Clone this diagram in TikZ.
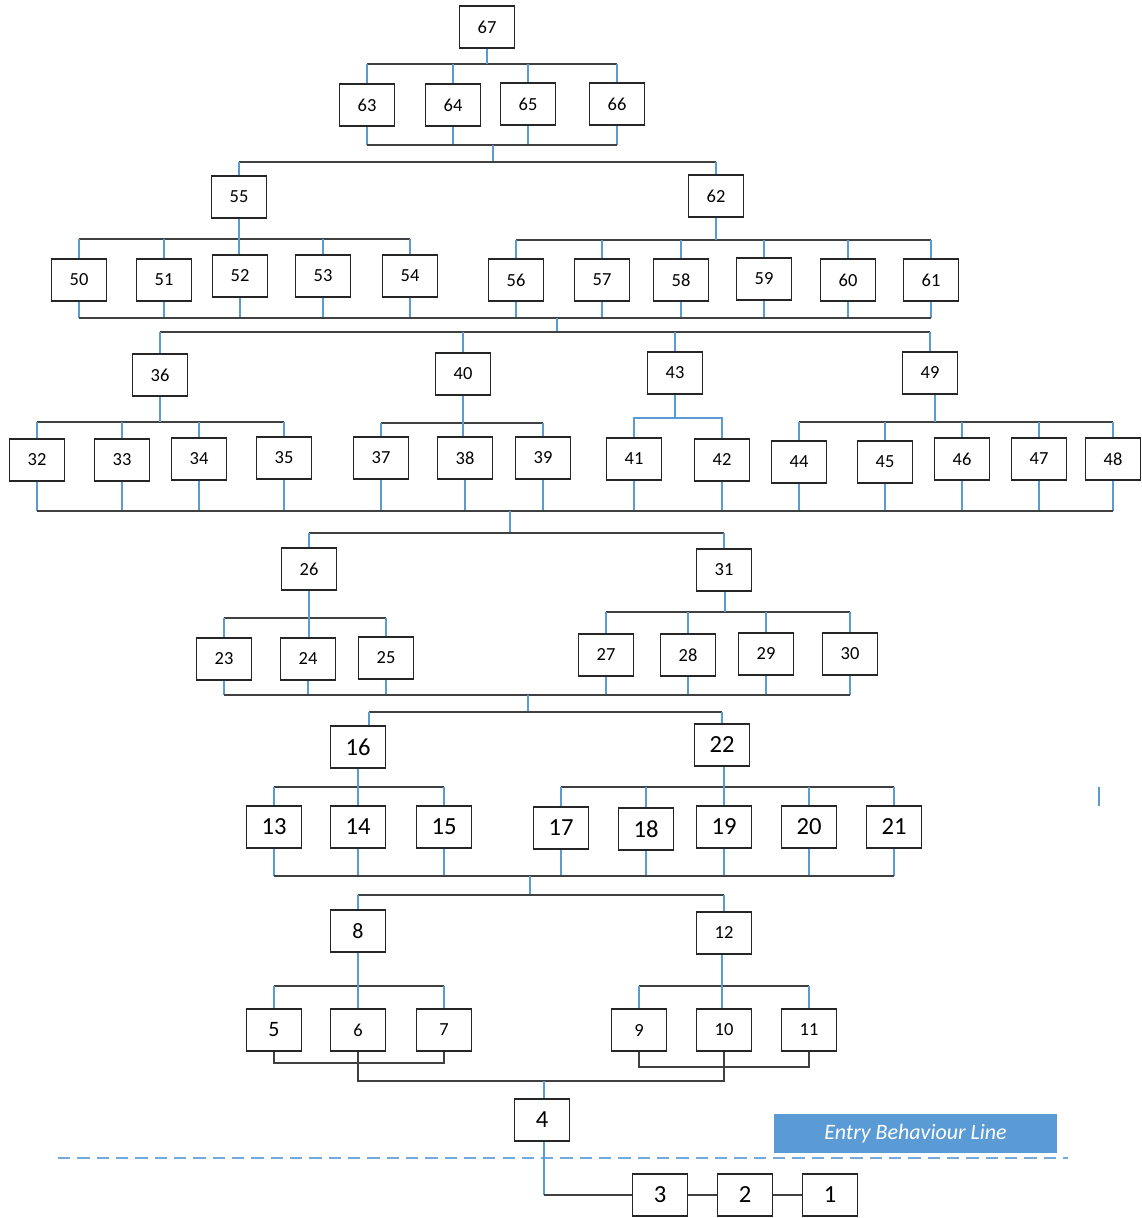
\documentclass[tikz,border=0pt]{standalone}
\usepackage{fontspec}
\setmainfont{Carlito}
\usepackage{xcolor, tikz}
\usetikzlibrary{calc}
\definecolor{stubblue}{HTML}{5B9BD5}
\definecolor{barcol}{HTML}{404040}
\tikzstyle{box} = [rectangle, minimum width=1.1cm, minimum height=0.84cm, inner sep=0pt, text centered, draw=black!85, line width=0.8pt, font=\fontsize{10.5}{12}\selectfont]
\tikzstyle{midbox} = [box, font=\fontsize{12.5}{14}\selectfont]
\tikzstyle{bigbox} = [box, font=\fontsize{14}{16}\selectfont]
\tikzstyle{bar} = [draw=barcol, line width=0.8pt]
\tikzstyle{stub} = [draw=stubblue, line width=0.6pt]
\tikzstyle{entrybox} = [rectangle, minimum width=5.66cm, minimum height=0.78cm, inner sep=0pt, fill=stubblue, text=white, font=\fontsize{12.5}{14}\selectfont\itshape]

\begin{document}
\begin{tikzpicture}[x=0.02cm, y=-0.02cm]
  \useasboundingbox (0,0) rectangle (1142,1218);
  % top of the map
  \node (n67)[box] at (487,27) {67};
  \node (n63)[box] at (367,105) {63};
  \node (n64)[box] at (453,105) {64};
  \node (n65)[box] at (528,104) {65};
  \node (n66)[box] at (617,104) {66};
  \node (n55)[box] at (239,197) {55};
  \node (n62)[box] at (716,196) {62};
  \node (n50)[box] at (79,280) {50};
  \node (n51)[box] at (164,280) {51};
  \node (n52)[box] at (240,276) {52};
  \node (n53)[box] at (323,276) {53};
  \node (n54)[box] at (410,276) {54};
  \node (n56)[box] at (516,280) {56};
  \node (n57)[box] at (602,280) {57};
  \node (n58)[box] at (681,280) {58};
  \node (n59)[box] at (764,279) {59};
  \node (n60)[box] at (848,280) {60};
  \node (n61)[box] at (931,280) {61};
  \node (n36)[box] at (160,375) {36};
  \node (n40)[box] at (463,374) {40};
  \node (n43)[box] at (675,373) {43};
  \node (n49)[box] at (930,373) {49};
  \node (n32)[box] at (37,460) {32};
  \node (n33)[box] at (122,460) {33};
  \node (n34)[box] at (199,459) {34};
  \node (n35)[box] at (284,458) {35};
  \node (n37)[box] at (381,458) {37};
  \node (n38)[box] at (465,458) {38};
  \node (n39)[box] at (543,458) {39};
  \node (n41)[box] at (634,459) {41};
  \node (n42)[box] at (722,460) {42};
  \node (n44)[box] at (799,462) {44};
  \node (n45)[box] at (885,462) {45};
  \node (n46)[box] at (962,459) {46};
  \node (n47)[box] at (1039,459) {47};
  \node (n48)[box] at (1113,459) {48};
  \node (n26)[box] at (309,569) {26};
  \node (n31)[box] at (724,570) {31};
  \node (n23)[box] at (224,659) {23};
  \node (n24)[box] at (308,659) {24};
  \node (n25)[box] at (386,658) {25};
  \node (n27)[box] at (606,655) {27};
  \node (n28)[box] at (688,655) {28};
  \node (n29)[box] at (766,654) {29};
  \node (n30)[box] at (850,654) {30};
  \node (n16)[bigbox] at (358,747) {16};
  \node (n22)[bigbox] at (722,745) {22};
  \node (n13)[bigbox] at (274,827) {13};
  \node (n14)[bigbox] at (358,827) {14};
  \node (n15)[bigbox] at (444,827) {15};
  \node (n17)[bigbox] at (561,828) {17};
  \node (n18)[bigbox] at (646,829) {18};
  \node (n19)[bigbox] at (724,827) {19};
  \node (n20)[bigbox] at (809,827) {20};
  \node (n21)[bigbox] at (894,827) {21};
  \node (n8)[midbox] at (358,931) {8};
  \node (n12)[box] at (724,933) {12};
  \node (n5)[midbox] at (274,1030) {5};
  \node (n6)[box] at (358,1030) {6};
  \node (n7)[box] at (444,1030) {7};
  \node (n9)[box] at (639,1030) {9};
  \node (n10)[box] at (724,1030) {10};
  \node (n11)[box] at (809,1030) {11};
  \node (n4)[bigbox] at (542,1120) {4};
  \node (n3)[bigbox] at (660,1195) {3};
  \node (n2)[bigbox] at (745,1195) {2};
  \node (n1)[bigbox] at (830,1195) {1};
  \node (entry)[entrybox] at (915.5,1133.5) {Entry Behaviour Line};

  % 67 and its parts
  \coordinate (t67) at (487,64);
  \draw[bar] (n63.north |- t67) -- (n66.north |- t67);
  \draw[stub] (n67.south) -- (t67);
  \draw[stub] (n63.north |- t67) -- (n63.north);
  \draw[stub] (n64.north |- t67) -- (n64.north);
  \draw[stub] (n65.north |- t67) -- (n65.north);
  \draw[stub] (n66.north |- t67) -- (n66.north);
  \coordinate (u63) at (493,145);
  \draw[stub] (n63.south) -- (n63.south |- u63);
  \draw[stub] (n64.south) -- (n64.south |- u63);
  \draw[stub] (n65.south) -- (n65.south |- u63);
  \draw[stub] (n66.south) -- (n66.south |- u63);
  \draw[bar] (n63.south |- u63) -- (n66.south |- u63);
  \coordinate (t55) at (493,162);
  \draw[stub] (u63) -- (t55);
  \draw[bar] (n55.north |- t55) -- (n62.north |- t55);
  \draw[stub] (n55.north |- t55) -- (n55.north);
  \draw[stub] (n62.north |- t55) -- (n62.north);

  % 55 and 62
  \coordinate (k55) at (239,239);
  \draw[bar] (n50.north |- k55) -- (n54.north |- k55);
  \draw[stub] (n55.south) -- (n55.south |- n52.north);
  \draw[stub] (n50.north |- k55) -- (n50.north);
  \draw[stub] (n51.north |- k55) -- (n51.north);
  \draw[stub] (n53.north |- k55) -- (n53.north);
  \draw[stub] (n54.north |- k55) -- (n54.north);
  \coordinate (k62) at (716,240);
  \draw[bar] (n56.north |- k62) -- (n61.north |- k62);
  \draw[stub] (n62.south) -- (k62);
  \draw[stub] (n56.north |- k62) -- (n56.north);
  \draw[stub] (n57.north |- k62) -- (n57.north);
  \draw[stub] (n58.north |- k62) -- (n58.north);
  \draw[stub] (n59.north |- k62) -- (n59.north);
  \draw[stub] (n60.north |- k62) -- (n60.north);
  \draw[stub] (n61.north |- k62) -- (n61.north);
  \coordinate (u50) at (557,318);
  \draw[stub] (n50.south) -- (n50.south |- u50);
  \draw[stub] (n51.south) -- (n51.south |- u50);
  \draw[stub] (n52.south) -- (n52.south |- u50);
  \draw[stub] (n53.south) -- (n53.south |- u50);
  \draw[stub] (n54.south) -- (n54.south |- u50);
  \draw[stub] (n56.south) -- (n56.south |- u50);
  \draw[stub] (n57.south) -- (n57.south |- u50);
  \draw[stub] (n58.south) -- (n58.south |- u50);
  \draw[stub] (n59.south) -- (n59.south |- u50);
  \draw[stub] (n60.south) -- (n60.south |- u50);
  \draw[stub] (n61.south) -- (n61.south |- u50);
  \draw[bar] (n50.south |- u50) -- (n61.south |- u50);
  \coordinate (t36) at (557,332);
  \draw[stub] (u50) -- (t36);
  \draw[bar] (n36.north |- t36) -- (n49.north |- t36);
  \draw[stub] (n36.north |- t36) -- (n36.north);
  \draw[stub] (n40.north |- t36) -- (n40.north);
  \draw[stub] (n43.north |- t36) -- (n43.north);
  \draw[stub] (n49.north |- t36) -- (n49.north);

  % 36, 40, 43 and 49
  \coordinate (k36) at (160,422);
  \draw[bar] (n32.north |- k36) -- (n35.north |- k36);
  \draw[stub] (n36.south) -- (k36);
  \draw[stub] (n32.north |- k36) -- (n32.north);
  \draw[stub] (n33.north |- k36) -- (n33.north);
  \draw[stub] (n34.north |- k36) -- (n34.north);
  \draw[stub] (n35.north |- k36) -- (n35.north);
  \coordinate (k40) at (463,423);
  \draw[bar] (n37.north |- k40) -- (n39.north |- k40);
  \draw[stub] (n40.south) -- (n40.south |- n38.north);
  \draw[stub] (n37.north |- k40) -- (n37.north);
  \draw[stub] (n39.north |- k40) -- (n39.north);
  \coordinate (k43) at (675,418);
  \draw[stub] (n41.north) |- (k43) -| (n42.north);
  \draw[stub] (n43.south) -- (k43);
  \coordinate (k49) at (935,422);
  \draw[bar] (n44.north |- k49) -- (n48.north |- k49);
  \draw[stub] (n49.south -| k49) -- (k49);
  \draw[stub] (n44.north |- k49) -- (n44.north);
  \draw[stub] (n45.north |- k49) -- (n45.north);
  \draw[stub] (n46.north |- k49) -- (n46.north);
  \draw[stub] (n47.north |- k49) -- (n47.north);
  \draw[stub] (n48.north |- k49) -- (n48.north);
  \coordinate (u32) at (510,511);
  \draw[stub] (n32.south) -- (n32.south |- u32);
  \draw[stub] (n33.south) -- (n33.south |- u32);
  \draw[stub] (n34.south) -- (n34.south |- u32);
  \draw[stub] (n35.south) -- (n35.south |- u32);
  \draw[stub] (n37.south) -- (n37.south |- u32);
  \draw[stub] (n38.south) -- (n38.south |- u32);
  \draw[stub] (n39.south) -- (n39.south |- u32);
  \draw[stub] (n41.south) -- (n41.south |- u32);
  \draw[stub] (n42.south) -- (n42.south |- u32);
  \draw[stub] (n44.south) -- (n44.south |- u32);
  \draw[stub] (n45.south) -- (n45.south |- u32);
  \draw[stub] (n46.south) -- (n46.south |- u32);
  \draw[stub] (n47.south) -- (n47.south |- u32);
  \draw[stub] (n48.south) -- (n48.south |- u32);
  \draw[bar] (n32.south |- u32) -- (n48.south |- u32);
  \coordinate (t26) at (510,533);
  \draw[stub] (u32) -- (t26);
  \draw[bar] (n26.north |- t26) -- (n31.north |- t26);
  \draw[stub] (n26.north |- t26) -- (n26.north);
  \draw[stub] (n31.north |- t26) -- (n31.north);

  % 26 and 31
  \coordinate (k26) at (309,618);
  \draw[bar] (n23.north |- k26) -- (n25.north |- k26);
  \draw[stub] (n26.south) -- (n26.south |- n24.north);
  \draw[stub] (n23.north |- k26) -- (n23.north);
  \draw[stub] (n25.north |- k26) -- (n25.north);
  \coordinate (k31) at (725,612);
  \draw[bar] (n27.north |- k31) -- (n30.north |- k31);
  \draw[stub] (n31.south -| k31) -- (k31);
  \draw[stub] (n27.north |- k31) -- (n27.north);
  \draw[stub] (n28.north |- k31) -- (n28.north);
  \draw[stub] (n29.north |- k31) -- (n29.north);
  \draw[stub] (n30.north |- k31) -- (n30.north);
  \coordinate (u23) at (528,695);
  \draw[stub] (n23.south) -- (n23.south |- u23);
  \draw[stub] (n24.south) -- (n24.south |- u23);
  \draw[stub] (n25.south) -- (n25.south |- u23);
  \draw[stub] (n27.south) -- (n27.south |- u23);
  \draw[stub] (n28.south) -- (n28.south |- u23);
  \draw[stub] (n29.south) -- (n29.south |- u23);
  \draw[stub] (n30.south) -- (n30.south |- u23);
  \draw[bar] (n23.south |- u23) -- (n30.south |- u23);
  \coordinate (t16) at (528,712);
  \coordinate (t16a) at (369,712);
  \draw[stub] (u23) -- (t16);
  \draw[bar] (t16a) -- (n22.north |- t16);
  \draw[stub] (t16a) -- (t16a |- n16.north);
  \draw[stub] (n22.north |- t16) -- (n22.north);

  % 16 and 22
  \coordinate (k16) at (358,787);
  \draw[bar] (n13.north |- k16) -- (n15.north |- k16);
  \draw[stub] (n16.south) -- (n16.south |- n14.north);
  \draw[stub] (n13.north |- k16) -- (n13.north);
  \draw[stub] (n15.north |- k16) -- (n15.north);
  \coordinate (k22) at (724,787);
  \draw[bar] (n17.north |- k22) -- (n21.north |- k22);
  \draw[stub] (n22.south -| k22) -- (n19.north);
  \draw[stub] (n17.north |- k22) -- (n17.north);
  \draw[stub] (n18.north |- k22) -- (n18.north);
  \draw[stub] (n20.north |- k22) -- (n20.north);
  \draw[stub] (n21.north |- k22) -- (n21.north);
  \coordinate (u13) at (530,876);
  \draw[stub] (n13.south) -- (n13.south |- u13);
  \draw[stub] (n14.south) -- (n14.south |- u13);
  \draw[stub] (n15.south) -- (n15.south |- u13);
  \draw[stub] (n17.south) -- (n17.south |- u13);
  \draw[stub] (n18.south) -- (n18.south |- u13);
  \draw[stub] (n19.south) -- (n19.south |- u13);
  \draw[stub] (n20.south) -- (n20.south |- u13);
  \draw[stub] (n21.south) -- (n21.south |- u13);
  \draw[bar] (n13.south |- u13) -- (n21.south |- u13);
  \coordinate (t8) at (530,895);
  \draw[stub] (u13) -- (t8);
  \draw[bar] (n8.north |- t8) -- (n12.north |- t8);
  \draw[stub] (n8.north |- t8) -- (n8.north);
  \draw[stub] (n12.north |- t8) -- (n12.north);
  \coordinate (tick) at (1099,787);
  \draw[stub] (tick) -- ++(0,19);

  % 8 and 12
  \coordinate (k8) at (358,986);
  \draw[bar] (n5.north |- k8) -- (n7.north |- k8);
  \draw[stub] (n8.south) -- (n8.south |- n6.north);
  \draw[stub] (n5.north |- k8) -- (n5.north);
  \draw[stub] (n7.north |- k8) -- (n7.north);
  \coordinate (k12) at (722,986);
  \draw[bar] (n9.north |- k12) -- (n11.north |- k12);
  \draw[stub] (n12.south -| k12) -- (k12 |- n10.north);
  \draw[stub] (n9.north |- k12) -- (n9.north);
  \draw[stub] (n11.north |- k12) -- (n11.north);
  \coordinate (j5) at (358,1063);
  \coordinate (j9) at (722,1067);
  \coordinate (j6) at (544,1081);
  \draw[bar] (n5.south) |- (j5) -| (n7.south);
  \draw[bar] (n9.south) |- (j9) -| (n11.south);
  \draw[bar] (n6.south) |- (j6) -| (n10.south);
  \draw[stub] (j6) -- (j6 |- n4.north);

  % entry behaviour line and 3, 2, 1
  \coordinate (d1) at (58,1158);
  \coordinate (d2) at (1068,1158);
  \draw[stubblue!85, line width=0.9pt, dash pattern=on 7pt off 4pt] (d1) -- (d2);
  \draw[stub] (j6 |- n4.south) -- (j6 |- n3.west);
  \draw[bar] (j6 |- n3.west) -- (n3.west);
  \draw[bar] (n3) -- (n2);
  \draw[bar] (n2) -- (n1);
\end{tikzpicture}
\end{document}
